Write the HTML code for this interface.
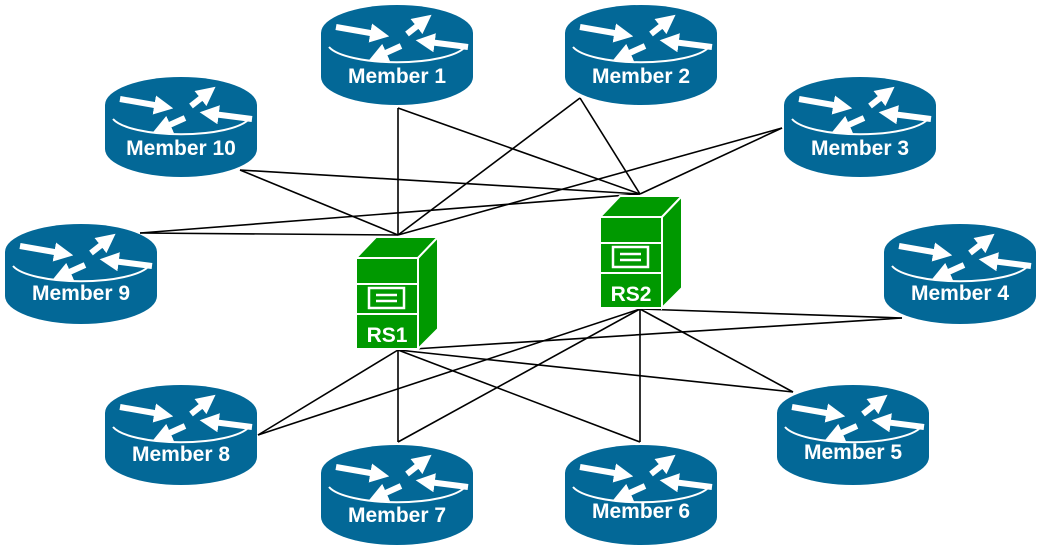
<!DOCTYPE html>
<html><head><style>body{margin:0;background:#fff}svg{display:block}</style></head>
<body>
<svg width="1040" height="550" viewBox="0 0 1040 550" xmlns="http://www.w3.org/2000/svg" font-family="Liberation Sans, sans-serif">
<defs>
<marker id="ah" viewBox="0 0 10 10" refX="3" refY="5" markerWidth="3.2" markerHeight="3.2" orient="auto"><path d="M0,0 L10,5 L0,10 z" fill="#fff"/></marker>
<g id="r">
<path d="M0,28 L0,72 A76,28 0 0 0 152,72 L152,28 Z" fill="#036897"/>
<ellipse cx="76" cy="28" rx="76" ry="28" fill="#036897"/>
<path d="M8,42 A70,20 0 0 0 144,42" fill="none" stroke="#fff" stroke-width="2"/>
<g stroke="#fff" stroke-width="6" marker-end="url(#ah)">
<line x1="15" y1="22" x2="55" y2="29"/>
<line x1="86" y1="29" x2="100" y2="18"/>
<line x1="147" y1="42" x2="108" y2="37"/>
<line x1="80" y1="41" x2="60" y2="50"/>
</g>
</g>
<g id="s">
<path d="M0,21 L20,0 L82,0 L62,21 Z" fill="#009900" stroke="#fff" stroke-width="2"/>
<path d="M62,21 L82,0 L82,92 L62,112 Z" fill="#009900" stroke="#fff" stroke-width="2"/>
<rect x="0" y="21" width="62" height="91" fill="#009900" stroke="#fff" stroke-width="2"/>
<line x1="0" y1="47" x2="62" y2="47" stroke="#fff" stroke-width="2"/>
<line x1="0" y1="77" x2="62" y2="77" stroke="#fff" stroke-width="2"/>
<rect x="13" y="51" width="35" height="20" fill="none" stroke="#fff" stroke-width="2.5"/>
<line x1="20" y1="58" x2="41" y2="58" stroke="#fff" stroke-width="2.5"/>
<line x1="20" y1="64" x2="41" y2="64" stroke="#fff" stroke-width="2.5"/>
</g>
</defs>
<g stroke="#000" stroke-width="1.6">
<line x1="398" y1="235" x2="398" y2="108"/><line x1="640" y1="194" x2="398" y2="108"/>
<line x1="398" y1="235" x2="580" y2="98"/><line x1="640" y1="194" x2="580" y2="98"/>
<line x1="398" y1="235" x2="240" y2="170"/><line x1="640" y1="194" x2="240" y2="170"/>
<line x1="398" y1="235" x2="140" y2="233"/><line x1="640" y1="194" x2="140" y2="233"/>
<line x1="398" y1="235" x2="782" y2="128"/><line x1="640" y1="194" x2="782" y2="128"/>
<line x1="398" y1="350" x2="902" y2="318"/><line x1="640" y1="309" x2="902" y2="318"/>
<line x1="398" y1="350" x2="793" y2="392"/><line x1="640" y1="309" x2="793" y2="392"/>
<line x1="398" y1="350" x2="640" y2="442"/><line x1="640" y1="309" x2="640" y2="442"/>
<line x1="398" y1="350" x2="398" y2="442"/><line x1="640" y1="309" x2="398" y2="442"/>
<line x1="398" y1="350" x2="258" y2="435"/><line x1="640" y1="309" x2="258" y2="435"/>
</g>
<g fill="#fff" font-weight="bold" font-size="21" text-anchor="middle">
<use href="#r" x="321" y="5"/><text x="397" y="83">Member 1</text>
<use href="#r" x="565" y="5"/><text x="641" y="83">Member 2</text>
<use href="#r" x="784" y="77"/><text x="860" y="155">Member 3</text>
<use href="#r" x="105" y="77"/><text x="181" y="155">Member 10</text>
<use href="#r" x="5" y="224"/><text x="81" y="300">Member 9</text>
<use href="#r" x="884" y="224"/><text x="960" y="300">Member 4</text>
<use href="#r" x="105" y="385"/><text x="181" y="461">Member 8</text>
<use href="#r" x="777" y="385"/><text x="853" y="459">Member 5</text>
<use href="#r" x="321" y="445"/><text x="397" y="522">Member 7</text>
<use href="#r" x="565" y="445"/><text x="641" y="518">Member 6</text>
<use href="#s" x="356" y="237"/><text x="387" y="342">RS1</text>
<use href="#s" x="600" y="196"/><text x="631" y="301">RS2</text>
</g>
</svg>
</body></html>
